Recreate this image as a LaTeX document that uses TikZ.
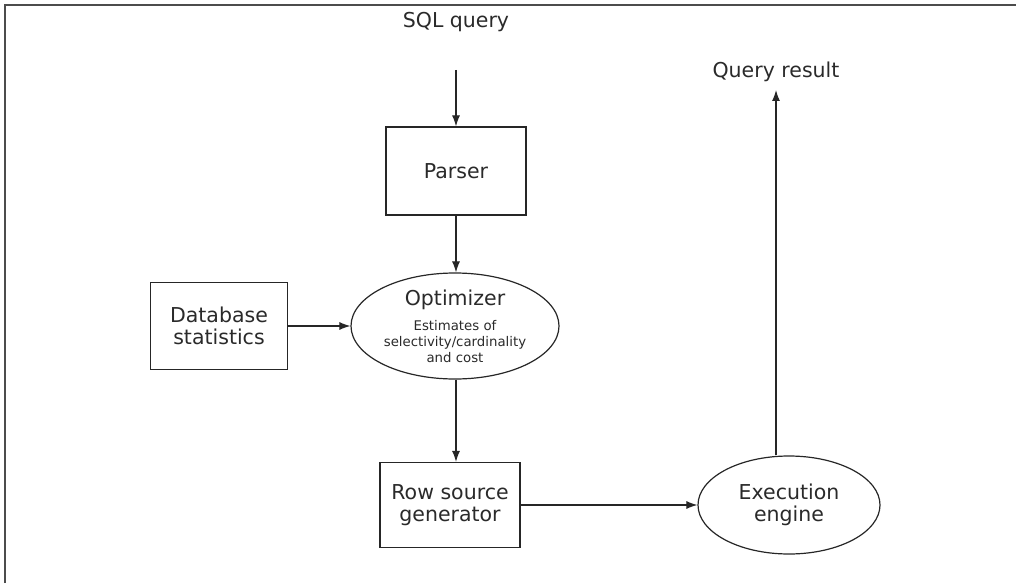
\documentclass[tikz,border=0pt]{standalone}
\usepackage{fontspec}
\setmainfont{DejaVu Sans}
\usetikzlibrary{arrows.meta,shapes.geometric}
\definecolor{txt}{HTML}{2A2A2A}
\begin{document}
\begin{tikzpicture}[x=1pt,y=-1pt,
  every node/.style={font=\fontsize{20.5}{24}\selectfont, text=txt, align=center},
  boxnode/.style={draw=black!85, line width=1.2pt, inner sep=0pt},
  ellnode/.style={draw=black!85, ellipse, line width=1.2pt, inner sep=0pt},
  conn/.style={draw=black!85, line width=1.1pt, -{Latex[length=11pt,width=8pt]}}]
\useasboundingbox (0,0) rectangle (1016,583);
\draw[line width=2pt, black!70] (5,583) -- (5,5) -- (1016,5);

\node (sql) at (456,22) {SQL query};
\node[boxnode, minimum width=140pt, minimum height=88pt] (parser) at (456,171) {Parser};
\node[boxnode, minimum width=137pt, minimum height=87pt] (dbs) at (219,326) {Database\\[-2pt]statistics};
\node[ellnode, minimum width=208pt, minimum height=106pt] (opt) at (455,326) {};
\node (optt) at (455,300) {Optimizer};
\node[font=\fontsize{13.3}{16}\selectfont] (est) at (455,342) {Estimates of\\selectivity/cardinality\\and cost};
\node[boxnode, minimum width=140pt, minimum height=85pt] (rsg) at (450,505) {Row source\\[-2pt]generator};
\node[ellnode, minimum width=182pt, minimum height=98pt] (exe) at (789,505) {Execution\\[-2pt]engine};
\node (qr) at (776,72) {Query result};

\coordinate (sqlb) at (456,70);
\coordinate (qrb) at (776,90);
\draw[conn] (sqlb) -- (parser.north);
\draw[conn] (parser.south) -- (parser.south |- opt.north);
\draw[conn] (dbs.east) -- (opt.west);
\draw[conn] (opt.south -| parser.south) -- (rsg.north -| parser.south);
\draw[conn] (rsg.east) -- (exe.west);
\draw[conn] (exe.north -| qrb) -- (qrb);
\end{tikzpicture}
\end{document}
